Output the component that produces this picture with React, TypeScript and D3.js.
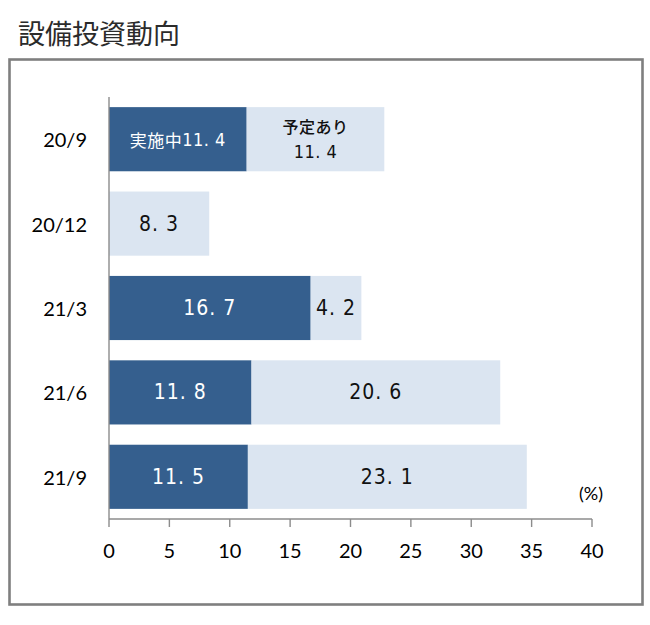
import React from "react";
import * as d3 from "d3";

const title = "設備投資動向";
const categories = ["20/9", "20/12", "21/3", "21/6", "21/9"];
const implemented = [11.4, 0, 16.7, 11.8, 11.5];
const planned = [11.4, 8.3, 4.2, 20.6, 23.1];
const seriesNames = ["実施中", "予定あり"];
const xTicks = [0, 5, 10, 15, 20, 25, 30, 35, 40];
const unitLabel = "(%)";

const DARK = "#355f8e";
const LIGHT = "#dbe5f1";
const AXIS = "#8c8c8c";
const NUM_FONT = "'Liberation Sans Narrow', 'DejaVu Sans Condensed', 'Noto Sans CJK JP', sans-serif";
const CJK_FONT = "'Noto Sans CJK JP', sans-serif";
const LAT_FONT = "Lato, 'Open Sans', sans-serif";

export default function App() {
  const x = d3.scaleLinear().domain([0, 40]).range([109, 592]);
  const y = d3
    .scaleBand<string>()
    .domain(categories)
    .range([97, 519])
    .paddingInner(0.24)
    .paddingOuter(0.12);
  const bw = y.bandwidth();
  const fmt = (v: number) => d3.format(".1f")(v).replace(".", ". ");

  return (
    <svg
      width={650}
      height={625}
      style={{ position: "absolute", left: 0, top: 0, display: "block", background: "#fff" }}
    >
      <text x={18} y={44} fontFamily={CJK_FONT} fontWeight={400} fontSize={27} fill="#2b2b2b">
        {title}
      </text>
      <rect x={9.5} y={59.5} width={633} height={545} fill="none" stroke="#7f7f7f" strokeWidth={2.6} />

      {categories.map((c, i) => {
        const y0 = y(c)!;
        const cy = y0 + bw / 2;
        const a = implemented[i];
        const p = planned[i];
        const first = i === 0;
        const lx = (x(a) + x(a + p)) / 2;
        return (
          <g key={c}>
            {a > 0 && <rect x={x(0)} y={y0} width={x(a) - x(0)} height={bw} fill={DARK} />}
            <rect x={x(a)} y={y0} width={x(a + p) - x(a)} height={bw} fill={LIGHT} />
            <text
              x={87}
              y={cy}
              textAnchor="end"
              dominantBaseline="central"
              fontFamily={LAT_FONT}
              fontWeight={400}
              fontSize={20}
              fill="#000"
            >
              {c}
            </text>
            {a > 0 && (
              <text
                x={(x(0) + x(a)) / 2}
                y={cy}
                textAnchor="middle"
                dominantBaseline="central"
                fontFamily={NUM_FONT}
                fontSize={first ? 18 : 21}
                letterSpacing={first ? 0.5 : 1}
                fill="#fff"
              >
                {first ? (
                  <>
                    <tspan fontFamily={CJK_FONT} fontSize={17}>
                      {seriesNames[0]}
                    </tspan>
                    {fmt(a)}
                  </>
                ) : (
                  fmt(a)
                )}
              </text>
            )}
            {first ? (
              <text textAnchor="middle" fontFamily={NUM_FONT} fontSize={18} letterSpacing={0.5} fill="#111">
                <tspan x={lx} y={cy - 6} fontFamily={CJK_FONT} fontSize={16} fontWeight={500}>
                  {seriesNames[1]}
                </tspan>
                <tspan x={lx} y={cy + 19}>
                  {fmt(p)}
                </tspan>
              </text>
            ) : (
              <text
                x={lx}
                y={cy}
                textAnchor="middle"
                dominantBaseline="central"
                fontFamily={NUM_FONT}
                fontSize={21}
                letterSpacing={1}
                fill="#111"
              >
                {fmt(p)}
              </text>
            )}
          </g>
        );
      })}

      <line x1={x(0)} x2={x(0)} y1={97} y2={519} stroke={AXIS} strokeWidth={1.4} />
      <line x1={x(0)} x2={x(40)} y1={519} y2={519} stroke={AXIS} strokeWidth={1.4} />
      {xTicks.map((t) => (
        <g key={t}>
          <line x1={x(t)} x2={x(t)} y1={519} y2={527} stroke={AXIS} strokeWidth={1.4} />
          <text
            x={x(t)}
            y={550}
            textAnchor="middle"
            dominantBaseline="central"
            fontFamily={LAT_FONT}
            fontSize={20}
            fill="#000"
          >
            {t}
          </text>
        </g>
      ))}
      <text
        x={591}
        y={493}
        textAnchor="middle"
        dominantBaseline="central"
        fontFamily={LAT_FONT}
        fontSize={18}
        fill="#000"
      >
        {unitLabel}
      </text>
    </svg>
  );
}
